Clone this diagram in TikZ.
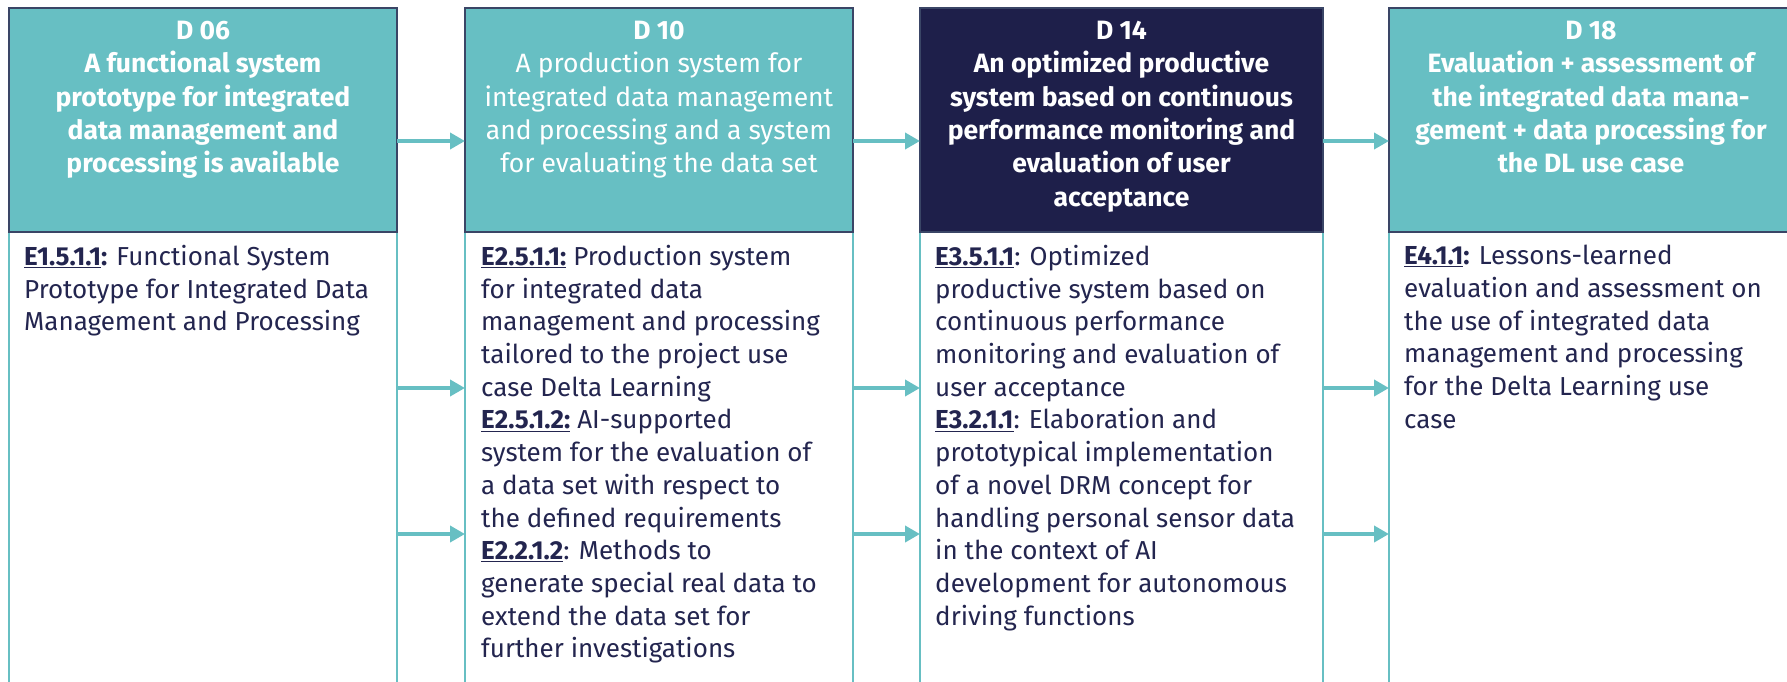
\documentclass[tikz,border=0pt]{standalone}
\usepackage{fontspec}
\setmainfont{Fira Sans}
\usetikzlibrary{positioning,arrows.meta}

\definecolor{teal}{HTML}{67BFC3}
\definecolor{navy}{HTML}{1E1F4A}
\definecolor{ink}{HTML}{23254F}
\definecolor{rim}{HTML}{3A4566}

\newcommand{\resid}[1]{\textbf{\underline{#1}}}

\tikzstyle{body} = [draw=teal,line width=1.5pt,fill=white,rectangle,minimum height=458pt,outer sep=0pt,inner sep=0pt,anchor=north west]
\tikzstyle{head} = [draw=rim,line width=1.5pt,fill=teal,rectangle,minimum height=224pt,outer sep=0pt,inner sep=0pt]
\tikzstyle{headtext} = [align=center,text=white,anchor=north,inner sep=0pt,font=\fontsize{26.5pt}{33.3pt}\selectfont,execute at begin node=\rule{0pt}{22pt}]
\tikzstyle{bodytext} = [align=left,text=ink,anchor=north west,inner sep=0pt,font=\fontsize{26pt}{32.7pt}\selectfont,execute at begin node=\rule{0pt}{24pt}]
\tikzstyle{flow} = [draw=teal,line width=4pt,-{Triangle[length=15pt,width=16pt]}]

\begin{document}
\begin{tikzpicture}[x=1pt,y=-1pt]
	\useasboundingbox (0,0) rectangle (1787,681);
	\node (body1) [body,minimum width=388pt] at (9,232) {};
	\node (body2) [body,minimum width=388pt] at (465,232) {};
	\node (body3) [body,minimum width=403pt] at (920,232) {};
	\node (body4) [body,minimum width=404pt] at (1389,232) {};
	\node (head1) [head,minimum width=388pt,above=0pt of body1] {};
	\node (head2) [head,minimum width=388pt,above=0pt of body2] {};
	\node (head3) [head,fill=navy,minimum width=403pt,above=0pt of body3] {};
	\node (head4) [head,minimum width=404pt,above=0pt of body4] {};
	% deliverables
	\node (d06) [headtext,font=\fontsize{26.5pt}{33.3pt}\selectfont\bfseries] at ([yshift=-13pt]head1.north) {D 06\\A functional system\\prototype for integrated\\data management and\\processing is available};
	\node (d10) [headtext] at ([yshift=-13pt]head2.north) {\textbf{D 10}\\A production system for\\integrated data management\\and processing and a system\\for evaluating the data set};
	\node (d14) [headtext,font=\fontsize{26.5pt}{33.3pt}\selectfont\bfseries] at ([yshift=-13pt]head3.north) {D 14\\An optimized productive\\system based on continuous\\performance monitoring and\\evaluation of user\\acceptance};
	\node (d18) [headtext,font=\fontsize{26.5pt}{33.3pt}\selectfont\bfseries] at ([yshift=-13pt]head4.north) {D 18\\Evaluation + assessment of\\the integrated data mana-\\gement + data processing for\\the DL use case};
	% results
	\node (e1) [bodytext] at ([xshift=15pt,yshift=-13pt]body1.north west) {\resid{E1.5.1.1}\textbf{:} Functional System\\Prototype for Integrated Data\\Management and Processing};
	\node (e2) [bodytext] at ([xshift=16pt,yshift=-13pt]body2.north west) {\resid{E2.5.1.1:} Production system\\for integrated data\\management and processing\\tailored to the project use\\case Delta Learning\\\resid{E2.5.1.2:} AI-supported\\system for the evaluation of\\a data set with respect to\\the defined requirements\\\resid{E2.2.1.2}: Methods to\\generate special real data to\\extend the data set for\\further investigations};
	\node (e3) [bodytext] at ([xshift=15pt,yshift=-13pt]body3.north west) {\resid{E3.5.1.1}: Optimized\\productive system based on\\continuous performance\\monitoring and evaluation of\\user acceptance\\\resid{E3.2.1.1}: Elaboration and\\prototypical implementation\\of a novel DRM concept for\\handling personal sensor data\\in the context of AI\\development for autonomous\\driving functions};
	\node (e4) [bodytext] at ([xshift=15pt,yshift=-13pt]body4.north west) {\resid{E4.1.1}\textbf{:} Lessons-learned\\evaluation and assessment on\\the use of integrated data\\management and processing\\for the Delta Learning use\\case};
	% arrows
	\coordinate (row1) at (0,141);
	\coordinate (row2) at (0,388);
	\coordinate (row3) at (0,534);
	\draw [flow] (head1.east |- row1) -- (head2.west |- row1);
	\draw [flow] (head2.east |- row1) -- (head3.west |- row1);
	\draw [flow] (head3.east |- row1) -- (head4.west |- row1);
	\draw [flow] (body1.east |- row2) -- (body2.west |- row2);
	\draw [flow] (body2.east |- row2) -- (body3.west |- row2);
	\draw [flow] (body3.east |- row2) -- (body4.west |- row2);
	\draw [flow] (body1.east |- row3) -- (body2.west |- row3);
	\draw [flow] (body2.east |- row3) -- (body3.west |- row3);
	\draw [flow] (body3.east |- row3) -- (body4.west |- row3);
\end{tikzpicture}
\end{document}
